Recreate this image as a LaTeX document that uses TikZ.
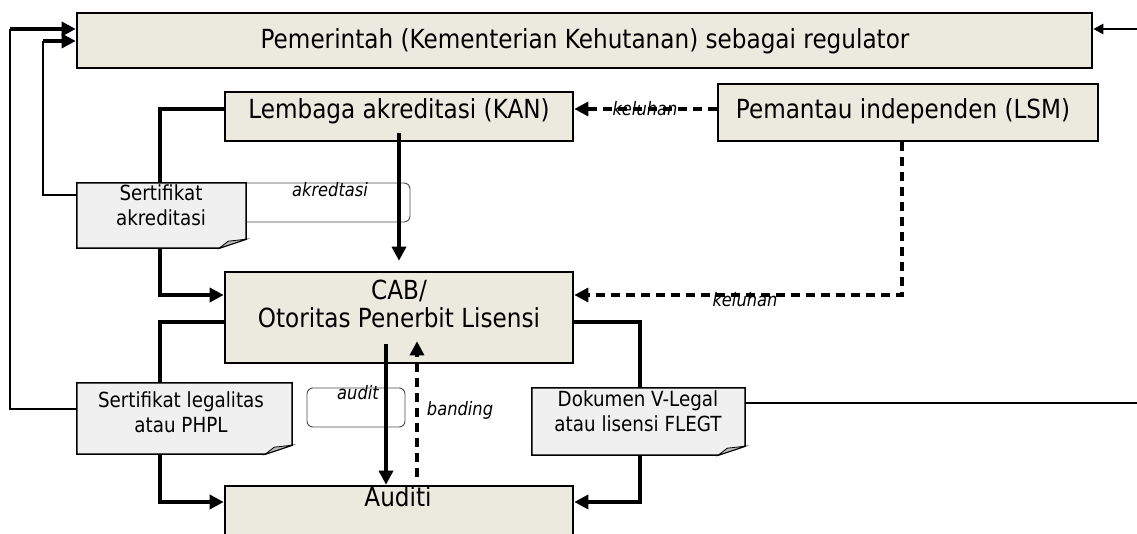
\documentclass[tikz,border=0pt]{standalone}
\usepackage{fontspec}
\setmainfont{DejaVu Sans}[FakeStretch=0.88]
\usetikzlibrary{arrows.meta}
\definecolor{boxfill}{RGB}{236,233,223}
\definecolor{docfill}{RGB}{240,240,240}
\newcommand\docfold[1]{%
  \filldraw[fill=docfill,line width=1.5pt] (#1.north west) -- (#1.north east) -- ([yshift=9pt]#1.south east) -- ([xshift=-27pt]#1.south east) -- (#1.south west) -- cycle;
  \filldraw[fill=gray!55,line width=0.8pt] ([yshift=9pt]#1.south east) -- ([xshift=-27pt]#1.south east) -- ([xshift=-18pt,yshift=7pt]#1.south east) -- cycle;}
\begin{document}
\begin{tikzpicture}[x=1pt,y=-1pt,
  box/.style={draw,line width=2.6pt,fill=boxfill,inner sep=0pt},
  docnode/.style={inner sep=0pt},
  bigtxt/.style={inner sep=0pt,align=center,font=\fontsize{26.3}{28}\selectfont},
  doctxt/.style={inner sep=0pt,align=center,font=\fontsize{20.8}{25.5}\selectfont},
  lbl/.style={inner sep=0pt,font=\fontsize{18.5}{20}\selectfont\itshape},
  rbox/.style={draw=black!70,line width=0.9pt,rounded corners=6pt,inner sep=0pt},
  conn/.style={line width=3.4pt},
  thinconn/.style={line width=1.4pt},
  arr/.style={-{Triangle[length=14pt,width=14pt]}},
  dashconn/.style={line width=3.2pt,dash pattern=on 9pt off 6pt},
]
\useasboundingbox (0,0) rectangle (1137,534);
% rounded label frames (behind)
\node[rbox,minimum width=210,minimum height=39] (acrbox) at (305,202.5) {};
\node[rbox,minimum width=98,minimum height=39] (audbox) at (356,407.5) {};
% document nodes
\node[docnode,minimum width=169,minimum height=65] (doc1) at (161.5,215.5) {};
\node[docnode,minimum width=215,minimum height=71] (doc2) at (184.5,418.5) {};
\node[docnode,minimum width=213,minimum height=67] (doc3) at (638.5,421.5) {};
\docfold{doc1}\docfold{doc2}\docfold{doc3}
\node[doctxt] (doc1t) at (161,205) {Sertifikat\\akreditasi};
\node[doctxt] (doc2t) at (181,412) {Sertifikat legalitas\\atau PHPL};
\node[doctxt] (doc3t) at (638,411) {Dokumen V-Legal\\atau lisensi FLEGT};
% boxes
\node[box,minimum width=1015,minimum height=55] (gov) at (584.5,40.5) {};
\node[box,minimum width=348,minimum height=49] (kan) at (399,116.5) {};
\node[box,minimum width=380,minimum height=57] (lsm) at (908,112.5) {};
\node[box,minimum width=348,minimum height=91] (cab) at (399,317.5) {};
\node[box,minimum width=348,minimum height=60] (aud) at (399,516) {};
\node[bigtxt] (govt) at (585,41) {Pemerintah (Kementerian Kehutanan) sebagai regulator};
\node[bigtxt] (kant) at (399,111) {Lembaga akreditasi (KAN)};
\node[bigtxt] (lsmt) at (903,111) {Pemantau independen (LSM)};
\node[bigtxt] (cabt) at (399,304) {CAB/\\Otoritas Penerbit Lisensi};
\node[bigtxt] (audt) at (398,497) {Auditi};
% corner coordinates
\coordinate (o1) at (10,409);
\coordinate (o2) at (10,29);
\coordinate (i1) at (43,195);
\coordinate (i2) at (43,41);
\coordinate (rin) at (1137,29);
\coordinate (k1) at (160,109);
\coordinate (k2) at (160,295);
\coordinate (c1) at (160,322);
\coordinate (c2) at (160,502);
\coordinate (d1) at (640,322);
\coordinate (d2) at (640,502);
\coordinate (l1) at (902,295);
\coordinate (rout) at (1137,403);
% connectors
\draw[thinconn] (doc2.west|-o1) -- (o1) -- (o2);
\draw[conn,arr] (o2) -- (o2-|gov.west);
\draw[thinconn] (doc1.west|-i1) -- (i1) -- (i2);
\draw[conn,arr] (i2) -- (i2-|gov.west);
\draw[line width=2.2pt,-{Triangle[length=10pt,width=10pt]}] (rin) -- (rin-|gov.east);
\draw[conn] (k1-|kan.west) -- (k1) -- (k1|-doc1.north);
\draw[conn,arr] (k1|-doc1.south) -- (k2) -- (k2-|cab.west);
\draw[conn,arr] ([yshift=9pt]kan.south) -- ([yshift=10pt]cab.north);
\draw[dashconn,arr] (k1-|lsm.west) -- (k1-|kan.east);
\draw[dashconn,arr] (l1|-lsm.south) -- (l1) -- (l1-|cab.east);
\draw[conn] (c1-|cab.west) -- (c1) -- (c1|-doc2.north);
\draw[conn,arr] (c1|-doc2.south) -- (c2) -- (c2-|aud.west);
\draw[conn] (d1-|cab.east) -- (d1) -- (d1|-doc3.north);
\draw[conn,arr] (d1|-doc3.south) -- (d2) -- (d2-|aud.east);
\draw[thinconn] (rout-|doc3.east) -- (rout);
\draw[conn,arr] ([xshift=-13pt,yshift=20pt]cab.south) -- ([xshift=-13pt]aud.north);
\draw[dashconn,arr] ([xshift=18pt,yshift=8pt]aud.north) -- ([xshift=18pt,yshift=23pt]cab.south);
% labels
\node[lbl] (lk1) at (645,109) {keluhan};
\node[lbl] (lk2) at (745,300) {keluhan};
\node[lbl] (lak) at (330,190) {akredtasi};
\node[lbl] (lau) at (358,393) {audit};
\node[lbl] (lba) at (460,410) {banding};
\end{tikzpicture}
\end{document}
